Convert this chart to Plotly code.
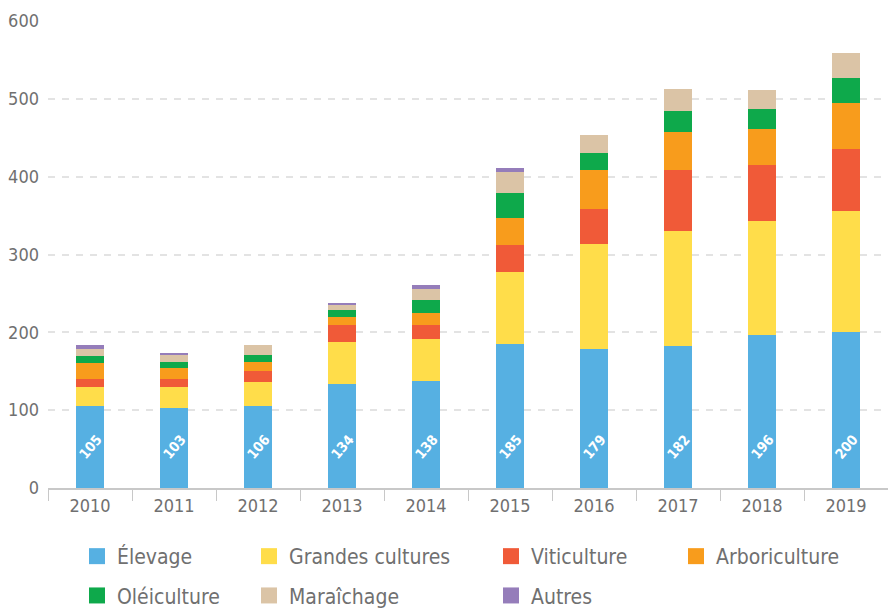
import plotly.graph_objects as go

years = ["2010", "2011", "2012", "2013", "2014", "2015", "2016", "2017", "2018", "2019"]
elevage = [105, 103, 106, 134, 138, 185, 179, 182, 196, 200]
grandes_cultures = [25, 27, 30, 54, 54, 92, 134, 148, 147, 156]
viticulture = [10, 10, 14, 22, 18, 35, 45, 78, 72, 80]
arboriculture = [21, 14, 12, 10, 15, 35, 50, 49, 46, 59]
oleiculture = [8, 8, 9, 9, 17, 32, 23, 28, 26, 32]
maraichage = [10, 9, 13, 7, 14, 27, 23, 28, 24, 32]
autres = [5, 3, 0, 2, 5, 5, 0, 0, 0, 0]
y_ticks = [0, 100, 200, 300, 400, 500, 600]

series = [
    ("Élevage", elevage, "#56b0e2", "legend"),
    ("Grandes cultures", grandes_cultures, "#ffdd4a", "legend2"),
    ("Viticulture", viticulture, "#f05a38", "legend3"),
    ("Arboriculture", arboriculture, "#f89c1c", "legend4"),
    ("Oléiculture", oleiculture, "#0ea94b", "legend"),
    ("Maraîchage", maraichage, "#dbc4a6", "legend2"),
    ("Autres", autres, "#957dba", "legend3"),
]

FONT = "DejaVu Sans Condensed, Liberation Sans Narrow, Roboto, sans-serif"
GREY = "#707070"

W, H = 888, 609
ML, MR, MT, MB = 48, 0, 21, 121
PW, PH = W - ML - MR, H - MT - MB


def px_x(px):
    return (px - ML) / PW


def px_y(py):
    return (H - MB - py) / PH


fig = go.Figure()
for name, vals, color, leg in series:
    fig.add_trace(go.Bar(
        x=years, y=vals, name=name, marker=dict(color=color, line=dict(width=0)),
        width=0.345, showlegend=False, legendgroup=name, hoverinfo="x+y+name",
    ))
for name, vals, color, leg in series:
    fig.add_trace(go.Scatter(
        x=[years[0]], y=[-1000], mode="markers", name=name, legendgroup=name,
        marker=dict(symbol="square", size=16, color=color), legend=leg,
        hoverinfo="skip", cliponaxis=True,
    ))

for i, v in enumerate(elevage):
    fig.add_annotation(x=i, y=53, xref="x", yref="y", text="<b>%d</b>" % v, showarrow=False,
                       textangle=-50, font=dict(family=FONT, size=14, color="white"))

leg_common = dict(orientation="v", xref="paper", yref="paper",
                  xanchor="left", yanchor="top", font=dict(family=FONT, size=21, color=GREY),
                  bgcolor="rgba(0,0,0,0)", tracegroupgap=9, itemsizing="trace")
ytop = px_y(536)

fig.update_layout(
    width=W, height=H,
    margin=dict(l=ML, r=MR, t=MT, b=MB, autoexpand=False),
    barmode="stack",
    plot_bgcolor="white", paper_bgcolor="white",
    font=dict(family=FONT, size=17, color=GREY),
    xaxis=dict(type="category", categoryorder="array", categoryarray=years,
               range=[-0.5, len(years) - 0.5], autorange=False,
               showgrid=False, showline=True, linecolor="#c8c8c8", linewidth=2,
               ticks="outside", tickson="boundaries", ticklen=11, tickcolor="#c8c8c8",
               tickangle=0,
               tickfont=dict(family=FONT, size=18, color=GREY), fixedrange=True),
    yaxis=dict(range=[0, 600], autorange=False, tickvals=y_ticks, showgrid=True, gridcolor="#e3e3e3",
               griddash="7px,7px", gridwidth=1.5, zeroline=False, ticks="",
               tickfont=dict(family=FONT, size=18, color=GREY), ticklabelstandoff=8, fixedrange=True),
    legend=dict(x=px_x(77), y=ytop, **leg_common),
    legend2=dict(x=px_x(249), y=ytop, **leg_common),
    legend3=dict(x=px_x(491), y=ytop, **leg_common),
    legend4=dict(x=px_x(676), y=ytop, **leg_common),
    showlegend=True,
)

fig.write_html("out.html", config={"displayModeBar": False},
               post_script="document.body.style.margin='0px';")
